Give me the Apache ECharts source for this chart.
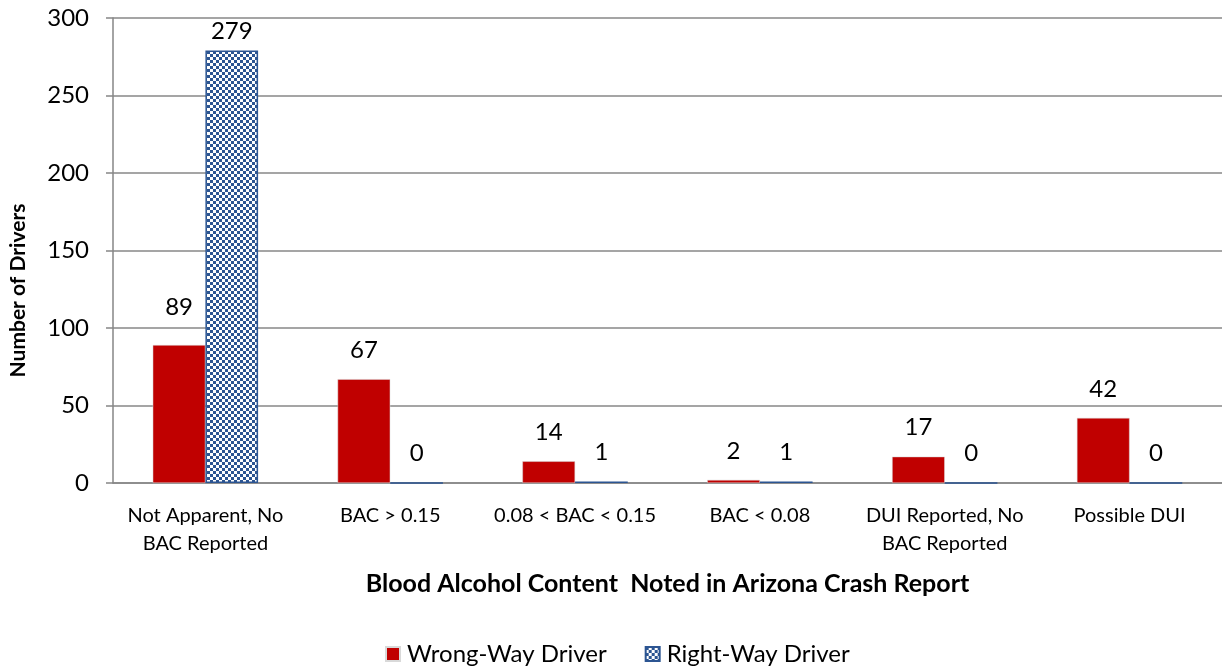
<!DOCTYPE html>
<html>
<head>
<meta charset="utf-8">
<script src="https://cdn.jsdelivr.net/npm/echarts@6/dist/echarts.min.js"></script>
<style>
  html, body { margin: 0; padding: 0; background: #fff; }
  #chart { width: 1222px; height: 667px; }
</style>
</head>
<body>
<div id="chart"></div>
<script>
const categories = [
  "Not Apparent, No\nBAC Reported",
  "BAC > 0.15",
  "0.08 < BAC < 0.15",
  "BAC < 0.08",
  "DUI Reported, No\nBAC Reported",
  "Possible DUI"
];
const wrongWay = [89, 67, 14, 2, 17, 42];
const rightWay = [279, 0, 1, 1, 0, 0];
const yTicks = [0, 50, 100, 150, 200, 250, 300];

const FONT = "Lato, 'Open Sans', sans-serif";

function checkerPattern() {
  const c = document.createElement("canvas");
  c.width = 6;
  c.height = 6;
  const ctx = c.getContext("2d");
  ctx.fillStyle = "#ffffff";
  ctx.fillRect(0, 0, 6, 6);
  ctx.fillStyle = "#2c5592";
  ctx.fillRect(0, 0, 3, 3);
  ctx.fillRect(3, 3, 3, 3);
  return c;
}

const labelStyle = {
  show: true,
  position: "top",
  distance: 17,
  color: "#000",
  fontFamily: FONT,
  fontSize: 24
};

const chart = echarts.init(document.getElementById("chart"));
chart.setOption({
  animation: false,
  textStyle: { fontFamily: FONT },
  grid: { left: 113, top: 18, width: 1110, height: 465 },
  legend: {
    bottom: -4,
    left: 380,
    itemWidth: 14,
    itemHeight: 14,
    itemGap: 38,
    icon: "rect",
    textStyle: { fontFamily: FONT, fontSize: 24, color: "#000", padding: [0, 0, 0, 2] },
    data: ["Wrong-Way Driver", "Right-Way Driver"]
  },
  xAxis: {
    type: "category",
    data: categories,
    name: "Blood Alcohol Content  Noted in Arizona Crash Report",
    nameLocation: "middle",
    nameGap: 88,
    nameTextStyle: { fontFamily: FONT, fontSize: 25, fontWeight: "bold", color: "#000" },
    axisLine: { lineStyle: { color: "#868686", width: 1.5 } },
    axisTick: { show: false },
    axisLabel: { color: "#000", fontFamily: FONT, fontSize: 20, lineHeight: 28, margin: 19, interval: 0 }
  },
  yAxis: {
    type: "value",
    min: yTicks[0],
    max: yTicks[yTicks.length - 1],
    interval: yTicks[1] - yTicks[0],
    name: "Number of Drivers",
    nameLocation: "middle",
    nameGap: 84,
    nameTextStyle: { fontFamily: FONT, fontSize: 21, fontWeight: "bold", color: "#000", padding: [0, 80, 0, 0] },
    axisLine: { show: true, lineStyle: { color: "#868686", width: 1.5 } },
    axisTick: { show: true, length: 7, lineStyle: { color: "#868686", width: 1.5 } },
    splitLine: { lineStyle: { color: "#878787", width: 1.5 } },
    axisLabel: { color: "#000", fontFamily: FONT, fontSize: 24, margin: 24 }
  },
  series: [
    {
      name: "Wrong-Way Driver",
      type: "bar",
      barGap: "0%",
      barCategoryGap: "43%",
      data: wrongWay.map((v, i) => ({
        value: v,
        label: i === 0 ? { distance: 26 } : undefined
      })),
      itemStyle: { color: "#c00000", borderColor: "#d9d9d9", borderWidth: 0.5 },
      label: labelStyle
    },
    {
      name: "Right-Way Driver",
      type: "bar",
      data: rightWay.map((v, i) => ({
        value: v,
        label: i === 0 ? { distance: 7 } : undefined
      })),
      itemStyle: { color: { image: checkerPattern(), repeat: "repeat" }, borderColor: "#2c5592", borderWidth: 1.5 },
      label: labelStyle
    }
  ]
});
</script>
</body>
</html>
